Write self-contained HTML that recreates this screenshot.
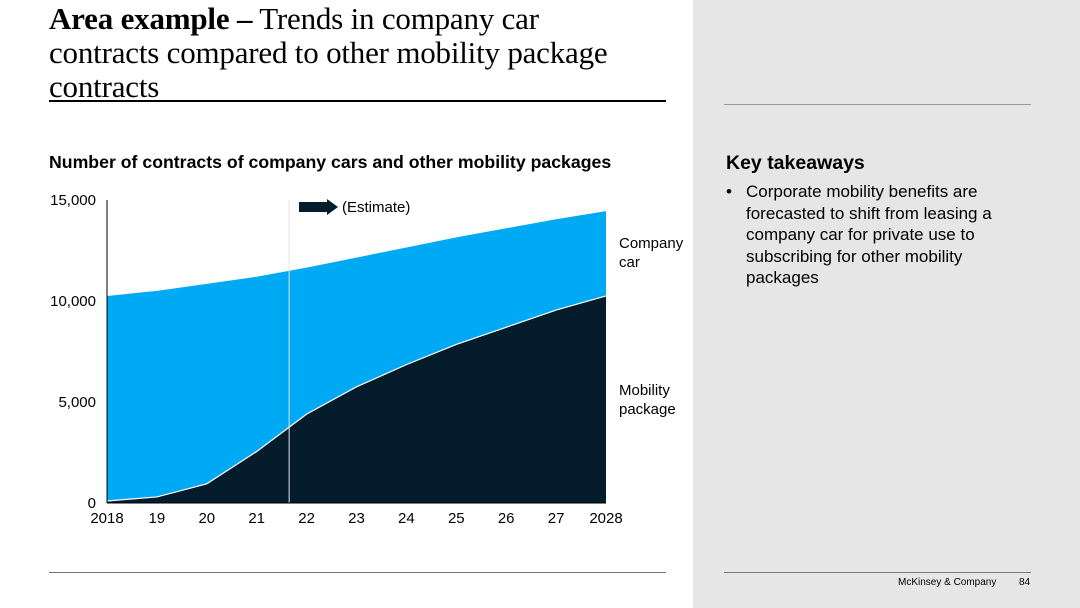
<!DOCTYPE html>
<html><head><meta charset="utf-8"><style>
body{margin:0;width:1080px;height:608px;position:relative;background:#fff;font-family:"Liberation Sans",sans-serif;overflow:hidden}
.abs{position:absolute}
</style></head><body>
<div class="abs" style="left:693px;top:0;width:387px;height:608px;background:#e6e6e6"></div>
<div class="abs" style="left:49px;top:2px;width:640px;font-family:'Liberation Serif',serif;font-size:31px;line-height:34px;color:#000;white-space:nowrap;letter-spacing:-0.2px"><b>Area example –</b> Trends in company car<br>contracts compared to other mobility package<br>contracts</div>
<div class="abs" style="left:49px;top:100px;width:617px;height:2px;background:#000"></div>
<div class="abs" style="left:724px;top:104px;width:307px;height:1px;background:#999"></div>
<div class="abs" style="left:49px;top:152px;font-size:17.7px;font-weight:bold;color:#000">Number of contracts of company cars and other mobility packages</div>
<div class="abs" style="left:726px;top:152px;font-size:19.5px;font-weight:bold">Key takeaways</div>
<div class="abs" style="left:726px;top:181px;width:310px;font-size:17px;line-height:21.5px"><span style="position:absolute;left:0">•</span><div style="margin-left:20px">Corporate mobility benefits are forecasted to shift from leasing a company car for private use to subscribing for other mobility packages</div></div>
<div class="abs" style="left:49px;top:572px;width:617px;height:1px;background:#777"></div>
<div class="abs" style="left:724px;top:572px;width:307px;height:1px;background:#777"></div>
<div class="abs" style="left:898px;top:577px;font-size:10px">McKinsey &amp; Company</div>
<div class="abs" style="left:1019px;top:577px;font-size:10px">84</div>
<svg class="abs" style="left:0;top:0" width="1080" height="608" id="chart"></svg>
<script>
const years=[2018,2019,2020,2021,2022,2023,2024,2025,2026,2027,2028];
const xLabels=["2018","19","20","21","22","23","24","25","26","27","2028"];
const mobility=[100,300,950,2550,4400,5750,6850,7850,8700,9550,10250];
const companyCar=[10150,10200,9900,8650,7250,6400,5800,5300,4900,4500,4200];
const yTicks=[0,5000,10000,15000];
const estimateYear=2021.65;
const X0=107,X1=606,Y0=503,Y1=200;
const sx=v=>X0+(v-2018)/(10)*(X1-X0);
const sy=v=>Y0-v/15000*(Y0-Y1);
const svg=document.getElementById('chart');const NS='http://www.w3.org/2000/svg';
function mk(t,a){const e=document.createElementNS(NS,t);for(const k in a)e.setAttribute(k,a[k]);svg.appendChild(e);return e;}
const totals=years.map((_,i)=>mobility[i]+companyCar[i]);
const topPts=years.map((yr,i)=>sx(yr)+','+sy(totals[i])).join(' ');
const midPts=years.map((yr,i)=>sx(yr)+','+sy(mobility[i])).join(' ');
const midRev=years.map((yr,i)=>sx(yr)+','+sy(mobility[i])).reverse().join(' ');
const a1=mk('polygon',{points:topPts+' '+midRev,fill:'#00a9f4'});


const a2=mk('polygon',{points:midPts+' '+sx(2028)+','+sy(0)+' '+sx(2018)+','+sy(0),fill:'#051c2c'});


const b=mk('polyline',{points:midPts,fill:'none',stroke:'#fff','stroke-width':1.2});


const el=mk('line',{x1:sx(estimateYear),x2:sx(estimateYear),y1:Y1,y2:Y0,stroke:'#e4e4e4','stroke-width':1});


const ya=mk('line',{x1:X0,x2:X0,y1:Y1,y2:Y0,stroke:'#000','stroke-width':1});


const xa=mk('line',{x1:X0,x2:X1,y1:Y0,y2:Y0,stroke:'#000','stroke-width':1});


yTicks.forEach(v=>{const t=mk('text',{x:96,y:sy(v)+5,'text-anchor':'end','font-size':15,'font-family':'Liberation Sans'});t.textContent=v.toLocaleString('en-US');

});
years.forEach((yr,i)=>{const t=mk('text',{x:sx(yr),y:523,'text-anchor':'middle','font-size':15,'font-family':'Liberation Sans'});t.textContent=xLabels[i];

});
const ar=mk('polygon',{points:'299,202 327,202 327,199 338,207 327,215 327,212 299,212',fill:'#051c2c'});


const et=mk('text',{x:342,y:212,'font-size':15,'font-family':'Liberation Sans'});et.textContent='(Estimate)';


[['Company',248],['car',267]].forEach(([s,yy])=>{const t=mk('text',{x:619,y:yy,'font-size':15,'font-family':'Liberation Sans'});t.textContent=s;

});
[['Mobility',395],['package',414]].forEach(([s,yy])=>{const t=mk('text',{x:619,y:yy,'font-size':15,'font-family':'Liberation Sans'});t.textContent=s;

});
</script>
</body></html>
